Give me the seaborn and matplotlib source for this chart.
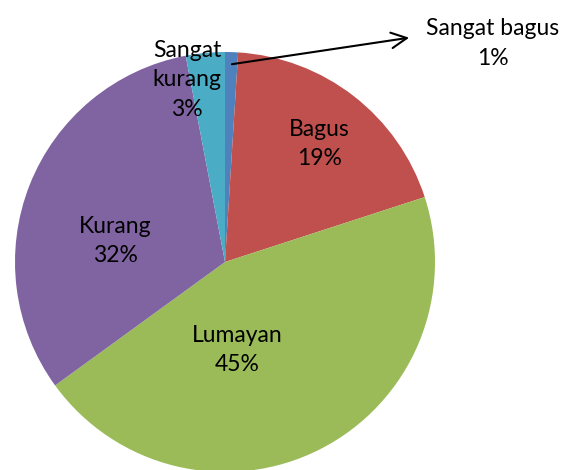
import matplotlib
matplotlib.use("Agg")
import matplotlib.pyplot as plt
import seaborn as sns

# Pie chart of ratings (Excel-style colours)
labels = ["Sangat bagus", "Bagus", "Lumayan", "Kurang", "Sangat\nkurang"]
values = [1, 19, 45, 32, 3]
colors = ["#4F81BD", "#C0504D", "#9BBB59", "#8064A2", "#4BACC6"]

sns.set_theme(style="white")
plt.rcParams["font.family"] = ["Lato", "DejaVu Sans"]

fig = plt.figure(figsize=(5.72, 4.70), dpi=100)
ax = fig.add_axes([15 / 572, -2 / 470, 420 / 572, 420 / 470])

ax.pie(values, colors=sns.color_palette(colors), startangle=90, counterclock=False,
       radius=1, wedgeprops=dict(linewidth=0))
ax.set_xlim(-1, 1)
ax.set_ylim(-1, 1)
ax.axis("off")

# label positions inside the slices
pos = [None, (0.448, 0.562), (0.057, -0.419), (-0.524, 0.10), (-0.181, 0.867)]
for lab, val, p in zip(labels, values, pos):
    if p is None:
        continue
    ax.text(p[0], p[1], f"{lab}\n{val}%", ha="center", va="center",
            fontsize=16.5, linespacing=1.5, color="black", clip_on=False)

# callout for the tiny slice
ax.annotate("", xy=(0.89, 1.07), xytext=(0.02, 0.94),
            arrowprops=dict(arrowstyle="->", color="black", lw=1.5, mutation_scale=28),
            annotation_clip=False)
ax.text(1.276, 1.04, f"{labels[0]}\n{values[0]}%", ha="center", va="center",
        fontsize=16.5, linespacing=1.5, color="black", clip_on=False)

fig.savefig("out.png", dpi=100)
